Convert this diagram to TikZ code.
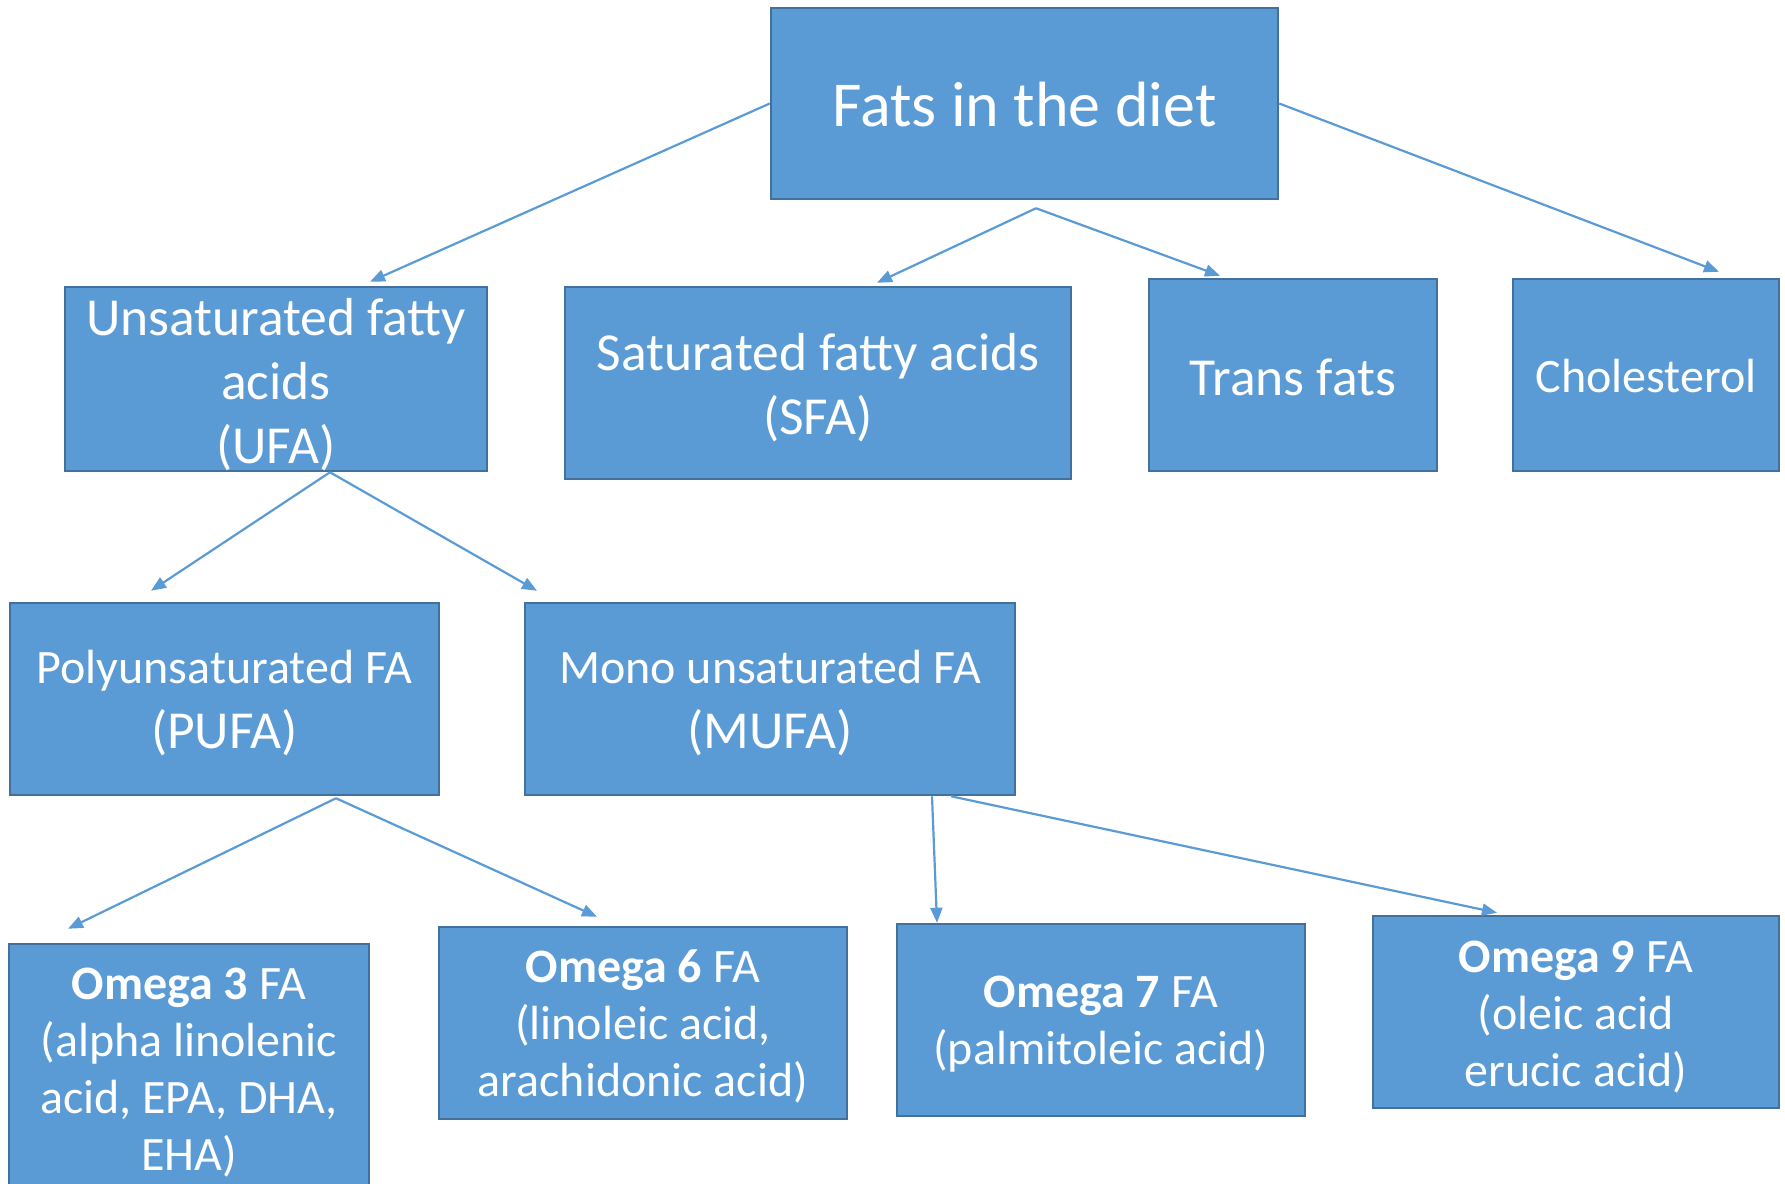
\documentclass[tikz,border=0pt]{standalone}
\usepackage{fontspec}
\setmainfont{Carlito}
\usetikzlibrary{arrows.meta}
\definecolor{boxfill}{HTML}{5B9BD5}
\definecolor{boxline}{HTML}{41719C}
\tikzset{
  fbox/.style={draw=boxline, line width=2.5pt, fill=boxfill, inner sep=0pt, rectangle},
  ftext/.style={text=white, align=center, inner sep=0pt},
  conn/.style={draw=boxfill, line width=2.2pt, -{Triangle[length=15pt,width=12pt]}},
  big/.style={font=\fontsize{64}{77}\selectfont},
  mid/.style={font=\fontsize{53.5}{64}\selectfont},
  sml/.style={font=\fontsize{48}{57}\selectfont},
}
\newcommand{\bigline}[1]{{\fontsize{53.5}{64}\selectfont #1}}
\begin{document}
\begin{tikzpicture}[x=1pt,y=-1pt]
\useasboundingbox (0,0) rectangle (1785,1183);
\clip (0,0) rectangle (1785,1183);
% boxes
\node[fbox,minimum width=507pt,minimum height=191pt] (root) at (1024.5,103.5) {};
\node[fbox,minimum width=422pt,minimum height=184pt] (ufa) at (276,379) {};
\node[fbox,minimum width=506pt,minimum height=192pt] (sfa) at (818,383) {};
\node[fbox,minimum width=288pt,minimum height=192pt] (trans) at (1293,375) {};
\node[fbox,minimum width=266pt,minimum height=192pt] (chol) at (1646,375) {};
\node[fbox,minimum width=429pt,minimum height=192pt] (pufa) at (224.5,699) {};
\node[fbox,minimum width=490pt,minimum height=192pt] (mufa) at (770,699) {};
\node[fbox,minimum width=360pt,minimum height=256pt] (o3) at (189,1072) {};
\node[fbox,minimum width=408pt,minimum height=192pt] (o6) at (643,1023) {};
\node[fbox,minimum width=408pt,minimum height=192pt] (o7) at (1101,1020) {};
\node[fbox,minimum width=406pt,minimum height=192pt] (o9) at (1576,1012) {};
% texts
\node[ftext,big] (root-t) at ([yshift=-1pt]root.center) {Fats in the diet};
\node[ftext,mid] (ufa-t) at ([yshift=-6pt]ufa.center) {Unsaturated fatty\\acids\\(UFA)};
\node[ftext,mid] (sfa-t) at ([yshift=-4.5pt]sfa.center) {Saturated fatty acids\\(SFA)};
\node[ftext,mid] (trans-t) at ([yshift=-2pt]trans.center) {Trans fats};
\node[ftext,sml] (chol-t) at ([yshift=-1.5pt]chol.center) {Cholesterol};
\node[ftext,sml] (pufa-t) at ([yshift=-4pt]pufa.center) {Polyunsaturated FA\\[8pt]\bigline{(PUFA)}};
\node[ftext,sml] (mufa-t) at ([yshift=-4pt]mufa.center) {Mono unsaturated FA\\[8pt]\bigline{(MUFA)}};
\node[ftext,sml] (o3-t) at ([yshift=-0.5pt]o3.center) {\textbf{Omega 3} FA\\(alpha linolenic\\acid, EPA, DHA,\\EHA)};
\node[ftext,sml] (o6-t) at ([yshift=-3pt]o6.center) {\textbf{Omega 6} FA\\(linoleic acid,\\arachidonic acid)};
\node[ftext,sml] (o7-t) at ([yshift=-4.5pt]o7.center) {\textbf{Omega 7} FA\\(palmitoleic acid)};
\node[ftext,sml] (o9-t) at ([yshift=-5.5pt]o9.center) {\textbf{Omega 9} FA\\(oleic acid\\erucic acid)};
% connectors
\coordinate (rootfork) at ([xshift=11.5pt,yshift=-8pt]root.south);
\coordinate (ufafork) at ([xshift=54pt]ufa.south);
\coordinate (pufafork) at ([xshift=111.5pt,yshift=-2pt]pufa.south);
\draw[conn] (root.west) -- ([xshift=94pt,yshift=4pt]ufa.north);
\draw[conn] (rootfork) -- ([xshift=59pt,yshift=3pt]sfa.north);
\draw[conn] (rootfork) -- ([xshift=-73pt,yshift=2pt]trans.north);
\draw[conn] (root.east) -- ([xshift=73pt,yshift=6pt]chol.north);
\draw[conn] (ufafork) -- ([xshift=-73.5pt,yshift=11pt]pufa.north);
\draw[conn] (ufafork) -- ([xshift=-233pt,yshift=11pt]mufa.north);
\draw[conn] (pufafork) -- ([xshift=-121pt,yshift=14pt]o3.north);
\draw[conn] (pufafork) -- ([xshift=-46pt,yshift=9pt]o6.north);
\draw[conn] ([xshift=162pt]mufa.south) -- ([xshift=-164pt]o7.north);
\draw[conn] ([xshift=181pt]mufa.south) -- ([xshift=-79pt,yshift=2pt]o9.north);
\end{tikzpicture}
\end{document}
